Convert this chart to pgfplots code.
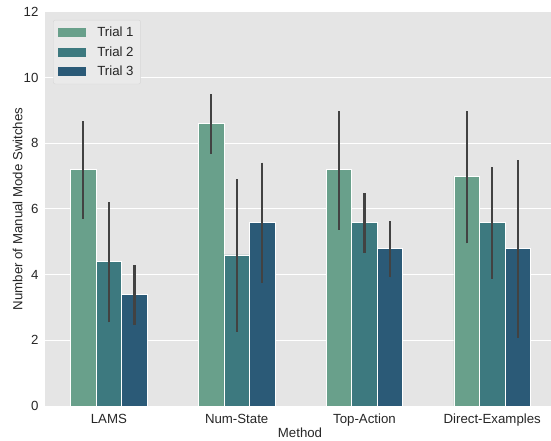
\documentclass[border=0pt]{standalone}
\usepackage{fontspec}
\setmainfont{Liberation Sans}
\usepackage{pgfplots}
\pgfplotsset{compat=1.18}
\definecolor{bgc}{HTML}{E5E5E5}
\definecolor{cA}{HTML}{69A08B}
\definecolor{cB}{HTML}{3D797F}
\definecolor{cC}{HTML}{2B5A77}
\definecolor{errc}{HTML}{424242}
\begin{document}
\begin{tikzpicture}
\begin{axis}[
  at={(45bp,35bp)}, anchor=south west,
  scale only axis, width=506bp, height=394bp,
  xmin=-0.5, xmax=3.46, ymin=0, ymax=12,
  xtick={0,1,2,3}, xticklabels={LAMS,Num-State,Top-Action,Direct-Examples},
  ytick={0,2,4,6,8,10,12},
  /pgf/number format/assume math mode=true,
  ticklabel style={font=\fontsize{13.3}{15}\selectfont, text=black!85},
  yticklabel style={xshift=-3bp},
  label style={font=\fontsize{13.3}{15}\selectfont, text=black!85},
  xlabel={Method}, ylabel={Number of Manual Mode Switches},
  xlabel style={at={(axis description cs:0.504,-0.068)}, anchor=center},
  ylabel style={at={(axis description cs:-0.054,0.5)}, anchor=center},
  axis background/.style={fill=bgc},
  axis line style={draw=none},
  tick style={draw=none},
  ymajorgrids, grid style={white, line width=1bp},
  ybar, bar width=0.2,
  error bars/y dir=both, error bars/y explicit,
  error bars/error mark=none,
  error bars/error bar style={line width=2.3bp, color=errc},
  legend style={at={(0.016,0.98)}, anchor=north west, fill=bgc!80!white, draw=black!16, rounded corners=2bp,
    font=\fontsize{13.3}{15}\selectfont, text=black!85, nodes={inner sep=2bp}, row sep=4.3bp, inner xsep=5bp, inner ysep=5bp},
  legend cell align=left,
  legend image code/.code={\fill[#1,draw=none,sharp corners] (0bp,-4.5bp) rectangle (28bp,4.5bp); \path[draw=none,fill=none] (0bp,-1bp) rectangle (37bp,1bp);},
]
\addplot[fill=cA, draw=white, line width=0.7bp, bar shift=-0.2] coordinates {
  (0,7.2) += (0,1.48) -= (0,1.51)
  (1,8.6) += (0,0.89) -= (0,0.92)
  (2,7.2) += (0,1.79) -= (0,1.83)
  (3,7.0) += (0,1.99) -= (0,2.05)
};
\addplot[fill=cB, draw=white, line width=0.7bp, bar shift=0] coordinates {
  (0,4.4) += (0,1.80) -= (0,1.85)
  (1,4.6) += (0,2.30) -= (0,2.34)
  (2,5.6) += (0,0.88) -= (0,0.93)
  (3,5.6) += (0,1.67) -= (0,1.72)
};
\addplot[fill=cC, draw=white, line width=0.7bp, bar shift=0.2] coordinates {
  (0,3.4) += (0,0.88) -= (0,0.93)
  (1,5.6) += (0,1.81) -= (0,1.84)
  (2,4.8) += (0,0.83) -= (0,0.88)
  (3,4.8) += (0,2.68) -= (0,2.72)
};
\legend{Trial 1, Trial 2, Trial 3}
\end{axis}
\pgfresetboundingbox
\path[use as bounding box] (0,0) rectangle (551bp,441bp);
\end{tikzpicture}
\end{document}
